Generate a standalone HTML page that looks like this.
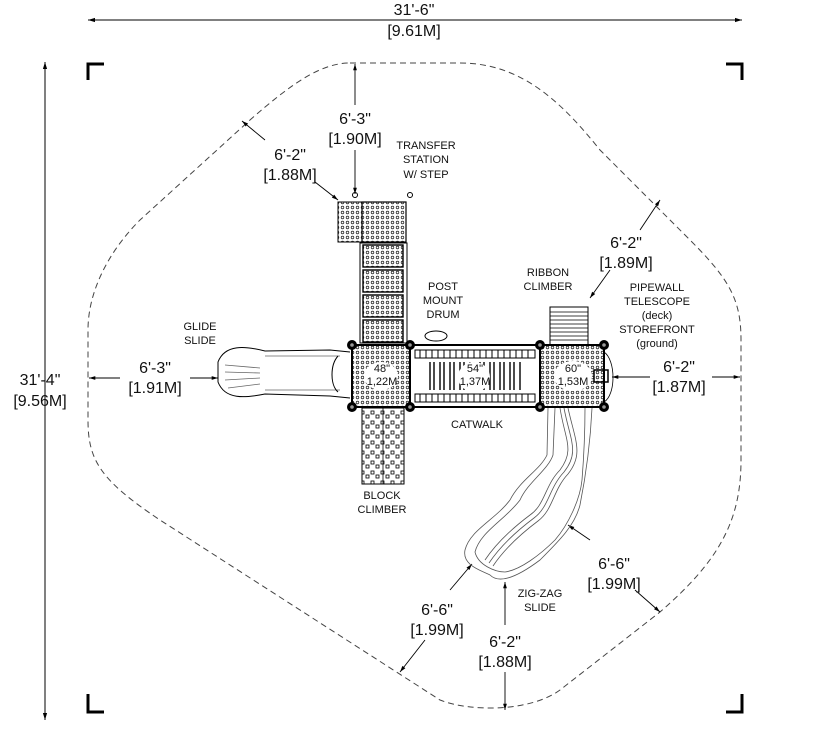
<!DOCTYPE html>
<html><head><style>body{margin:0;background:#fff}svg{display:block}text{font-family:"Liberation Sans",sans-serif;fill:#111}</style></head><body>
<svg width="825" height="740" viewBox="0 0 825 740" xmlns="http://www.w3.org/2000/svg">
<defs>
<marker id="a" viewBox="0 0 10 10" refX="10" refY="5" markerWidth="10" markerHeight="7" orient="auto-start-reverse"><path d="M0,2 L10,5 L0,8 Z" fill="#000"/></marker>
<pattern id="dots" width="5" height="5" patternUnits="userSpaceOnUse"><circle cx="2.5" cy="2.5" r="1.3" fill="none" stroke="#333" stroke-width="0.8"/></pattern>
<pattern id="blk" width="10" height="10" patternUnits="userSpaceOnUse"><rect x="1" y="1" width="3" height="3" fill="none" stroke="#000" stroke-width="0.8"/><rect x="6" y="5" width="3" height="3" fill="none" stroke="#000" stroke-width="0.8"/></pattern>
</defs>
<g stroke="#000" fill="none">
<line x1="88" y1="20" x2="742" y2="20" stroke-width="1" marker-start="url(#a)" marker-end="url(#a)"/>
<line x1="45" y1="62" x2="45" y2="720" stroke-width="1" marker-start="url(#a)" marker-end="url(#a)"/>
<path d="M88,80 V64 H104 M726,64 H742 V80 M88,694 V712 H104 M726,712 H742 V694" stroke-width="3"/>
<path d="M350,63 L460,63 C520,63 560,100 600,150 L690,240 C730,280 741,300 741,340 L741,460 C741,520 720,560 660,612 L560,690 C530,712 470,712 440,700 L160,520 C100,480 88,460 88,420 L88,330 C88,290 110,250 140,220 L250,120 C290,85 320,63 350,63 Z" stroke="#444" stroke-width="1" stroke-dasharray="6,4"/>
<g stroke-width="0.9">
<line x1="355" y1="105" x2="355" y2="64" marker-end="url(#a)"/>
<line x1="355" y1="150" x2="355" y2="194" marker-end="url(#a)"/>
<line x1="265" y1="140" x2="242" y2="121" marker-end="url(#a)"/>
<line x1="315" y1="182" x2="338" y2="200" marker-end="url(#a)"/>
<line x1="640" y1="230" x2="660" y2="200" marker-end="url(#a)"/>
<line x1="610" y1="270" x2="590" y2="298" marker-end="url(#a)"/>
<line x1="120" y1="378" x2="89" y2="378" marker-end="url(#a)"/>
<line x1="190" y1="378" x2="218" y2="378" marker-end="url(#a)"/>
<line x1="650" y1="377" x2="612" y2="377" marker-end="url(#a)"/>
<line x1="712" y1="377" x2="740" y2="377" marker-end="url(#a)"/>
<line x1="590" y1="540" x2="568" y2="525" marker-end="url(#a)"/>
<line x1="635" y1="590" x2="660" y2="612" marker-end="url(#a)"/>
<line x1="450" y1="590" x2="472" y2="564" marker-end="url(#a)"/>
<line x1="425" y1="640" x2="400" y2="672" marker-end="url(#a)"/>
<line x1="505" y1="625" x2="505" y2="582" marker-end="url(#a)"/>
<line x1="505" y1="672" x2="505" y2="710" marker-end="url(#a)"/>
</g>
<rect x="338" y="202" width="24" height="40" fill="url(#dots)" stroke-width="1"/>
<rect x="362" y="202" width="44" height="40" fill="url(#dots)" stroke-width="1.2"/>
<circle cx="355" cy="195" r="2.5"/><circle cx="410" cy="195" r="2.5"/>
<rect x="360" y="243" width="47" height="100" stroke-width="1"/>
<rect x="363" y="245" width="40" height="22" fill="url(#dots)" stroke-width="1.4"/>
<rect x="363" y="270" width="40" height="22" fill="url(#dots)" stroke-width="1.4"/>
<rect x="363" y="295" width="40" height="22" fill="url(#dots)" stroke-width="1.4"/>
<rect x="363" y="320" width="40" height="22" fill="url(#dots)" stroke-width="1.4"/>
<path d="M350,352 L330,350 L265,351 C245,346 225,344 218,362 L218,382 C225,400 245,398 265,394 L330,396 L350,398" fill="#fff" stroke-width="1"/>
<path d="M265,356 H340 M265,390 H340 M225,365 L260,368 M225,372 L260,373 M225,380 L260,378 M228,388 L260,384" stroke="#666" stroke-width="0.8"/>
<path d="M338,356 C330,365 330,385 338,392" stroke-width="1"/>
<rect x="352" y="345" width="58" height="62" fill="url(#dots)" stroke-width="2"/>
<rect x="410" y="345" width="130" height="62" fill="#fff" stroke-width="2"/>
<rect x="415" y="350" width="120" height="8" fill="none" stroke-width="1"/>
<rect x="415" y="394" width="120" height="8" fill="none" stroke-width="1"/>
<path d="M420,350v8M426,350v8M432,350v8M438,350v8M444,350v8M450,350v8M456,350v8M462,350v8M468,350v8M474,350v8M480,350v8M486,350v8M492,350v8M498,350v8M504,350v8M510,350v8M516,350v8M522,350v8M528,350v8M420,394v8M426,394v8M432,394v8M438,394v8M444,394v8M450,394v8M456,394v8M462,394v8M468,394v8M474,394v8M480,394v8M486,394v8M492,394v8M498,394v8M504,394v8M510,394v8M516,394v8M522,394v8M528,394v8" stroke-width="1"/>
<path d="M430,362v28M434,362v28M440,362v28M444,362v28M450,362v28M454,362v28M460,362v28M464,362v28M470,362v28M474,362v28M480,362v28M484,362v28M490,362v28M494,362v28M500,362v28M504,362v28M510,362v28M514,362v28M520,362v28" stroke-width="1.4"/>
<ellipse cx="474" cy="377" rx="16" ry="15" fill="#fff" stroke="none"/>
<rect x="540" y="345" width="64" height="62" fill="url(#dots)" stroke-width="2"/>
<ellipse cx="381" cy="376" rx="17" ry="14" fill="#fff" stroke="none"/>
<ellipse cx="573" cy="376" rx="19" ry="15" fill="#fff" stroke="none"/>
<g fill="#000" stroke-width="1"><circle cx="352" cy="345" r="4.5"/><circle cx="352" cy="407" r="4.5"/><circle cx="410" cy="345" r="4.5"/><circle cx="410" cy="407" r="4.5"/><circle cx="540" cy="345" r="4.5"/><circle cx="540" cy="407" r="4.5"/><circle cx="604" cy="345" r="4.5"/><circle cx="604" cy="407" r="4.5"/></g>
<g fill="#999" stroke="none"><circle cx="352" cy="345" r="1.8"/><circle cx="352" cy="407" r="1.8"/><circle cx="410" cy="345" r="1.8"/><circle cx="410" cy="407" r="1.8"/><circle cx="540" cy="345" r="1.8"/><circle cx="540" cy="407" r="1.8"/><circle cx="604" cy="345" r="1.8"/><circle cx="604" cy="407" r="1.8"/></g>
<path d="M604,352 C616,360 616,395 604,402" stroke-width="0.8"/>
<rect x="594" y="370" width="14" height="12" stroke-width="1.5"/>
<rect x="550" y="307" width="38" height="38" stroke-width="1"/>
<path d="M550,312H588M550,316H588M550,320H588M550,324H588M550,328H588M550,332H588M550,336H588M550,340H588" stroke-width="0.8"/>
<ellipse cx="436" cy="336" rx="11" ry="5" fill="#fff" stroke-width="1"/>
<rect x="362" y="408" width="42" height="76" fill="url(#blk)" stroke-width="1"/>
<line x1="383" y1="408" x2="383" y2="484" stroke-width="0.8"/>
<g stroke="#555" stroke-width="0.8">
<path d="M548,408 L547,455 C540,470 520,480 510,500 C495,520 470,530 465,550 C462,565 480,570 490,575 C500,585 520,575 540,560 C560,540 575,525 580,505 C585,480 590,450 592,408"/>
<path d="M555,408 L553,455 C548,470 528,482 520,500 C505,520 480,532 475,552 C478,565 495,572 505,572 C520,570 540,555 555,540 C568,525 580,500 582,480 C584,455 585,430 585,408"/>
<path d="M560,408 C565,440 575,450 560,470 C545,485 545,505 530,515 C510,530 495,545 485,560"/>
<path d="M564,408 C570,440 580,452 564,472 C549,488 549,507 534,518 C514,533 499,548 489,563"/>
<path d="M568,408 C575,440 584,454 568,474 C553,490 553,510 538,521 C518,536 503,551 493,566"/>
</g>
</g>
<g font-size="16" text-anchor="middle">
<text x="414" y="15">31'-6"</text><text x="414" y="36">[9.61M]</text>
<text x="40" y="385">31'-4"</text><text x="40" y="406">[9.56M]</text>
<text x="355" y="124">6'-3"</text><text x="355" y="144">[1.90M]</text>
<text x="290" y="160">6'-2"</text><text x="290" y="180">[1.88M]</text>
<text x="626" y="248">6'-2"</text><text x="626" y="268">[1.89M]</text>
<text x="155" y="373">6'-3"</text><text x="155" y="393">[1.91M]</text>
<text x="679" y="372">6'-2"</text><text x="679" y="392">[1.87M]</text>
<text x="614" y="569">6'-6"</text><text x="614" y="589">[1.99M]</text>
<text x="437" y="615">6'-6"</text><text x="437" y="635">[1.99M]</text>
<text x="505" y="647">6'-2"</text><text x="505" y="667">[1.88M]</text>
</g>
<g font-size="11" text-anchor="middle">
<text x="426" y="149">TRANSFER</text><text x="426" y="163">STATION</text><text x="426" y="178">W/ STEP</text>
<text x="443" y="290">POST</text><text x="443" y="304">MOUNT</text><text x="443" y="318">DRUM</text>
<text x="548" y="276">RIBBON</text><text x="548" y="290">CLIMBER</text>
<text x="657" y="291">PIPEWALL</text><text x="657" y="305">TELESCOPE</text><text x="657" y="319">(deck)</text><text x="657" y="333">STOREFRONT</text><text x="657" y="347">(ground)</text>
<text x="200" y="330">GLIDE</text><text x="200" y="344">SLIDE</text>
<text x="477" y="428">CATWALK</text>
<text x="382" y="499">BLOCK</text><text x="382" y="513">CLIMBER</text>
<text x="540" y="597">ZIG-ZAG</text><text x="540" y="611">SLIDE</text>
<text x="382" y="372">48"</text><text x="382" y="385">1,22M</text>
<text x="475" y="372">54"</text><text x="475" y="385">1,37M</text>
<text x="573" y="372">60"</text><text x="573" y="385">1,53M</text>
</g>
</svg>
</body></html>
